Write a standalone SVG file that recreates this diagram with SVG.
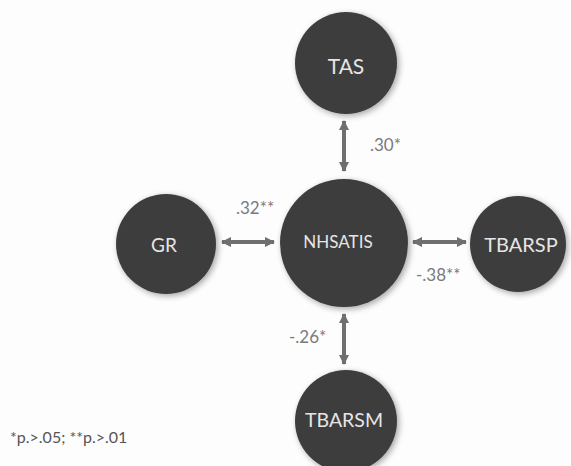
<svg xmlns="http://www.w3.org/2000/svg" width="571" height="466" viewBox="0 0 571 466">
  <style>
    .node circle { fill: #3e3e3e; filter: url(#shadow); }
    .node text { fill: #e6e6e6; font-family: Lato, "Open Sans", sans-serif; text-anchor: middle; }
    .edge line { stroke: #6f6f6f; stroke-width: 4; marker-start: url(#head); marker-end: url(#head); }
    .coef { fill: #7a7a7a; font-family: Lato, "Open Sans", sans-serif; font-size: 17px; }
    .note { fill: #555; font-family: Lato, "Open Sans", sans-serif; font-size: 16px; }
  </style>
  <defs>
    <filter id="shadow" x="-20%" y="-20%" width="150%" height="150%">
      <feGaussianBlur in="SourceAlpha" stdDeviation="3"/>
      <feOffset dx="2" dy="2" result="blur"/>
      <feComponentTransfer><feFuncA type="linear" slope="0.35"/></feComponentTransfer>
      <feMerge><feMergeNode/><feMergeNode in="SourceGraphic"/></feMerge>
    </filter>
    <marker id="head" viewBox="0 0 10 10" refX="9" refY="5" markerWidth="10" markerHeight="10" markerUnits="userSpaceOnUse" orient="auto-start-reverse">
      <path d="M0,0 L10,5 L0,10 Z" fill="#6f6f6f"/>
    </marker>
  </defs>
  <rect width="571" height="466" fill="#fdfdfd"/>

  <g id="connectors" class="edge">
    <line x1="344" y1="121" x2="344" y2="171"/>
    <line x1="222" y1="242" x2="274" y2="242"/>
    <line x1="413" y1="242" x2="466" y2="242"/>
    <line x1="344" y1="314" x2="344" y2="364"/>
  </g>

  <g id="coefficients">
    <text class="coef" x="370" y="151">.30*</text>
    <text class="coef" x="236" y="214">.32**</text>
    <text class="coef" x="416" y="281">-.38**</text>
    <text class="coef" x="289" y="343">-.26*</text>
  </g>

  <g id="node-tas" class="node">
    <circle cx="346" cy="63" r="51"/>
    <text x="346" y="74" font-size="21">TAS</text>
  </g>
  <g id="node-gr" class="node">
    <circle cx="166" cy="244" r="50"/>
    <text x="164" y="252" font-size="19">GR</text>
  </g>
  <g id="node-nhsatis" class="node">
    <circle cx="344" cy="243" r="64"/>
    <text x="338" y="248" font-size="17">NHSATIS</text>
  </g>
  <g id="node-tbarsp" class="node">
    <circle cx="518" cy="244" r="48"/>
    <text x="521" y="252" font-size="20">TBARSP</text>
  </g>
  <g id="node-tbarsm" class="node">
    <circle cx="346" cy="421" r="51"/>
    <text x="344" y="427" font-size="19.5">TBARSM</text>
  </g>

  <text class="note" x="10" y="443">*p.&gt;.05; **p.&gt;.01</text>
</svg>
